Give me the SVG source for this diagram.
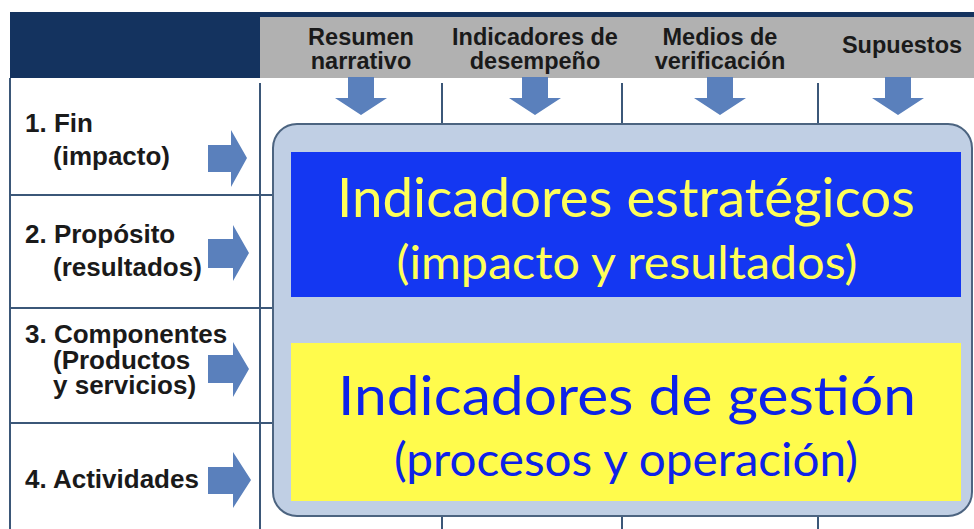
<svg xmlns="http://www.w3.org/2000/svg" width="974" height="529" viewBox="0 0 974 529">
<style>
.hdr{font-family:"Liberation Sans",Arial,sans-serif;font-weight:bold;font-size:23.5px;fill:#1a1a1a;text-anchor:middle}
.row{font-family:"Liberation Sans",Arial,sans-serif;font-weight:bold;font-size:26px;fill:#1a1a1a}
.grid{stroke:#3b5778;stroke-width:2;fill:none}
.arr{fill:#5a80bc}
.big{font-family:Lato,"Open Sans",sans-serif;text-anchor:middle}
</style>
<rect x="0" y="0" width="974" height="529" fill="#ffffff"/>
<g id="header">
  <rect x="10" y="12" width="964" height="66" fill="#14335f"/>
  <rect x="260" y="17" width="714" height="61" fill="#b1b1b1"/>
  <text class="hdr" x="361" y="45">Resumen</text>
  <text class="hdr" x="361" y="69">narrativo</text>
  <text class="hdr" x="535" y="45">Indicadores de</text>
  <text class="hdr" x="535" y="69">desempeño</text>
  <text class="hdr" x="720" y="45">Medios de</text>
  <text class="hdr" x="720" y="69">verificación</text>
  <text class="hdr" x="902" y="53">Supuestos</text>
</g>
<g id="grid" class="grid">
  <line x1="10" y1="78" x2="10" y2="529"/>
  <line x1="260" y1="83" x2="260" y2="529"/>
  <line x1="10" y1="195" x2="273" y2="195"/>
  <line x1="10" y1="308" x2="273" y2="308"/>
  <line x1="10" y1="423" x2="273" y2="423"/>
  <line x1="442" y1="83" x2="442" y2="125"/>
  <line x1="622" y1="83" x2="622" y2="125"/>
  <line x1="818" y1="83" x2="818" y2="125"/>
  <line x1="442" y1="516" x2="442" y2="529"/>
  <line x1="622" y1="516" x2="622" y2="529"/>
  <line x1="818" y1="516" x2="818" y2="529"/>
</g>
<g id="row1">
  <text class="row" x="25" y="132">1. Fin</text>
  <text class="row" x="53" y="165">(impacto)</text>
</g>
<g id="row2">
  <text class="row" x="25" y="243">2. Propósito</text>
  <text class="row" x="53" y="276">(resultados)</text>
</g>
<g id="row3">
  <text class="row" x="25" y="343">3. Componentes</text>
  <text class="row" x="53" y="369">(Productos</text>
  <text class="row" x="53" y="394">y servicios)</text>
</g>
<g id="row4">
  <text class="row" x="25" y="488">4. Actividades</text>
</g>
<g id="matrix">
  <rect x="273" y="124" width="699" height="392" rx="24" ry="24" fill="#c0cfe4" stroke="#4c6480" stroke-width="2"/>
</g>
<g id="estrategicos">
  <rect x="291" y="152" width="670" height="145" fill="#1437f2"/>
  <text class="big" x="626" y="217" font-size="54" fill="#ffff5a" textLength="578" lengthAdjust="spacingAndGlyphs">Indicadores estratégicos</text>
  <text class="big" x="627" y="279" font-size="47" fill="#ffff5a" textLength="461" lengthAdjust="spacingAndGlyphs">(impacto y resultados)</text>
</g>
<g id="gestion">
  <rect x="291" y="343" width="670" height="158" fill="#fffb4c"/>
  <text class="big" x="627" y="415" font-size="54" fill="#0d22e8" textLength="578" lengthAdjust="spacingAndGlyphs">Indicadores de gestión</text>
  <text class="big" x="626" y="476" font-size="47" fill="#0d22e8" textLength="464" lengthAdjust="spacingAndGlyphs">(procesos y operación)</text>
</g>
<g id="connectors" class="arr">
  <polygon points="348,77 374,77 374,98 387,98 361,115 335,98 348,98"/>
  <polygon points="522,77 548,77 548,98 561,98 535,115 509,98 522,98"/>
  <polygon points="707,77 733,77 733,98 746,98 720,115 694,98 707,98"/>
  <polygon points="885,77 911,77 911,98 924,98 898,115 872,98 885,98"/>
  <polygon points="208,145 231,145 231,130 247,158 231,187 231,172 208,172"/>
  <polygon points="208,239 233,239 233,225 249,253 233,281 233,268 208,268"/>
  <polygon points="208,355 233,355 233,342 249,369 233,397 233,383 208,383"/>
  <polygon points="208,467 233,467 233,452 251,480 233,508 233,494 208,494"/>
</g>
</svg>
